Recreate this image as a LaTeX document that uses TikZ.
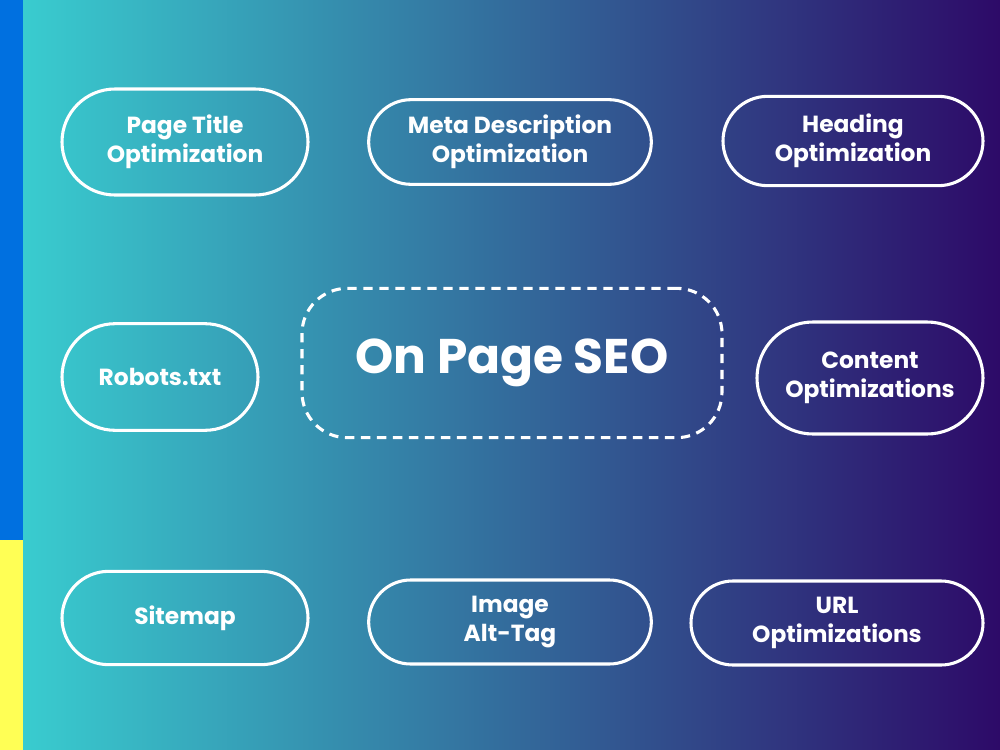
\documentclass[tikz,border=0pt]{standalone}
\usepackage{fontspec}
\setmainfont{Poppins}
\usetikzlibrary{positioning}

\definecolor{tealleft}{HTML}{39CCCF}
\definecolor{purpleright}{HTML}{2D0A68}
\definecolor{stripblue}{HTML}{0070E0}
\definecolor{stripyellow}{HTML}{FFFF55}

\tikzset{
    pill/.style 2 args={draw=white, line width=2.3pt, text=white,
        align=center, font=\fontsize{17.5}{22}\selectfont\bfseries,
        minimum width=#1, minimum height=#2, rounded corners=#2/2,
        inner sep=0pt},
    hub/.style={draw=white, line width=2.3pt, dash pattern=on 7pt off 5pt,
        text=white, minimum width=315pt, minimum height=112pt,
        rounded corners=34pt, font=\fontsize{36.5}{42}\selectfont\bfseries}
}

\begin{document}
\begin{tikzpicture}[x=0.75pt, y=-0.75pt]
    % Background
    \useasboundingbox (0,0) rectangle (1000,750);
    \shade[left color=tealleft, right color=purpleright] (23,0) rectangle (1000,750);
    \fill[stripblue] (0,0) rectangle (23,540);
    \fill[stripyellow] (0,540) rectangle (23,750);

    % Centre
    \node[hub] (seo) at (512,363) {On Page SEO};

    % Top row
    \node[pill={184.5pt}{79.5pt}] (title) at (185,142) {Page Title\\Optimization};
    \node[pill={212pt}{63.5pt}] (meta) at (510,142) {Meta Description\\Optimization};
    \node[pill={195pt}{67pt}] (heading) at (853,141) {Heading\\Optimization};

    % Middle row
    \node[pill={147pt}{80pt}] (robots) at (160,377) {Robots.txt};
    \node[pill={169.5pt}{84pt}] (content) at (870,378) {Content\\Optimizations};

    % Bottom row
    \node[pill={184.5pt}{70pt}] (sitemap) at (185,618) {Sitemap};
    \node[pill={212pt}{63pt}] (image) at (510,622) {Image\\Alt-Tag};
    \node[pill={219pt}{63pt}] (url) at (837,623) {URL\\Optimizations};
\end{tikzpicture}
\end{document}
